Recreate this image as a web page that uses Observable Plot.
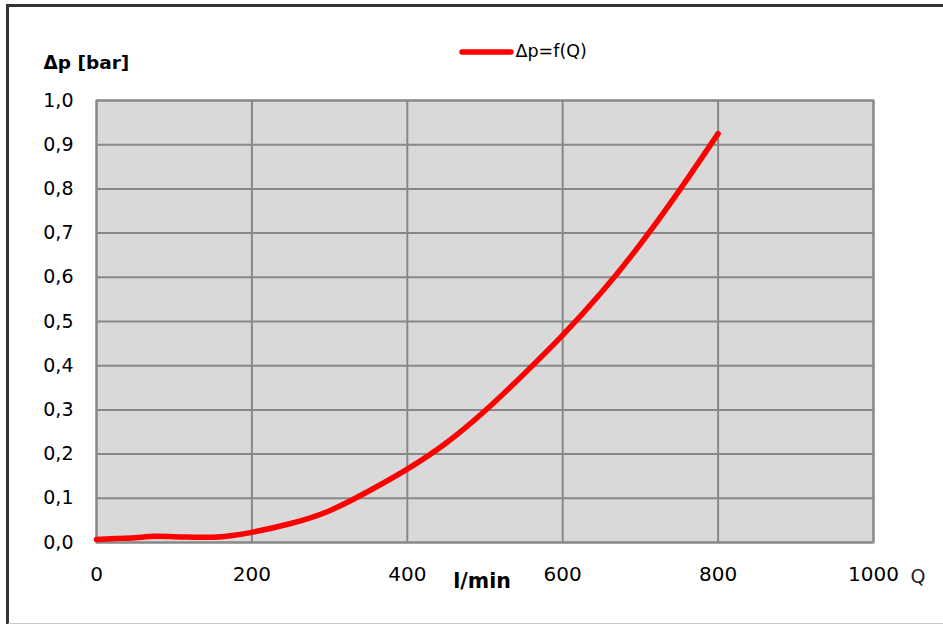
<!DOCTYPE html>
<html>
<head>
<meta charset="utf-8">
<script src="https://cdn.jsdelivr.net/npm/d3@7"></script>
<script src="https://cdn.jsdelivr.net/npm/@observablehq/plot@0.6"></script>
<style>
  html, body { margin: 0; padding: 0; background: #fff; }
  #wrap { position: relative; width: 943px; height: 624px; overflow: hidden; }
  #border { position: absolute; left: 6px; top: 4px; width: 1000px; height: 616px;
            border-top: 3px solid #333; border-left: 3px solid #333; border-bottom: 2px solid #c8c8c8; }
  #chart { position: absolute; left: 0; top: 0; }
</style>
</head>
<body>
<div id="wrap"><div id="border"></div><div id="chart"></div></div>
<script>
// Flow Q [l/min]
const flow = [0, 25, 50, 75, 100, 125, 150, 175, 200, 250, 300, 350, 400, 450, 500, 550, 600, 650, 700, 750, 800];
// Pressure drop Δp [bar]
const dp = [0.007, 0.009, 0.011, 0.014, 0.013, 0.012, 0.012, 0.016, 0.023, 0.043, 0.072, 0.116, 0.166, 0.225, 0.298, 0.381, 0.469, 0.566, 0.675, 0.796, 0.925];
const xTicks = [0, 200, 400, 600, 800, 1000];
const yTicks = [0, 0.1, 0.2, 0.3, 0.4, 0.5, 0.6, 0.7, 0.8, 0.9, 1.0];
const seriesName = "Δp=f(Q)";
const yTitle = "Δp [bar]";
const xTitle = "l/min";
const xSymbol = "Q";

const data = flow.map((q, i) => ({q, dp: dp[i]}));
const fmtY = d => d.toFixed(1).replace(".", ",");
const fmtX = d => String(d);
const gridColor = "#888888";
const font = "'DejaVu Sans', sans-serif";

const plot = Plot.plot({
  width: 943,
  height: 624,
  marginLeft: 96,
  marginRight: 70,
  marginTop: 100,
  marginBottom: 82,
  style: {fontFamily: font, fontSize: "19px", color: "#000", background: "transparent", overflow: "visible"},
  x: {domain: [0, 1000]},
  y: {domain: [0, 1]},
  marks: [
    Plot.frame({fill: "#d9d9d9"}),
    Plot.gridX(xTicks, {stroke: gridColor, strokeOpacity: 1, strokeWidth: 2}),
    Plot.gridY(yTicks, {stroke: gridColor, strokeOpacity: 1, strokeWidth: 2}),
    Plot.frame({stroke: gridColor, strokeWidth: 2}),
    Plot.line(data, {x: "q", y: "dp", stroke: "#ff0000", strokeWidth: 5.5, curve: "natural", strokeLinecap: "round", strokeLinejoin: "round"}),
    Plot.axisX(xTicks, {tickSize: 0, tickPadding: 24, label: null, tickFormat: fmtX, fontSize: 20}),
    Plot.axisY(yTicks, {tickSize: 0, tickPadding: 23, label: null, tickFormat: fmtY, fontSize: 19}),
    Plot.text([yTitle], {frameAnchor: "top-left", dx: -53, dy: -37, lineAnchor: "middle", textAnchor: "start", fontWeight: "bold", fontSize: 18.5}),
    Plot.text([xTitle], {frameAnchor: "bottom", dx: -3, dy: 39, lineAnchor: "middle", fontWeight: "bold", fontSize: 20.5}),
    Plot.text([xSymbol], {frameAnchor: "bottom-right", dx: 52, dy: 34, lineAnchor: "middle", fontSize: 19, fill: "#222"}),
    Plot.text([seriesName], {frameAnchor: "top-left", dx: 419, dy: -49, lineAnchor: "middle", textAnchor: "start", fontSize: 17.5})
  ]
});

// legend swatch
d3.select(plot).append("line")
  .attr("x1", 462).attr("x2", 511).attr("y1", 52).attr("y2", 52)
  .attr("stroke", "#ff0000").attr("stroke-width", 5.5).attr("stroke-linecap", "round");

document.getElementById("chart").appendChild(plot);
</script>
</body>
</html>
